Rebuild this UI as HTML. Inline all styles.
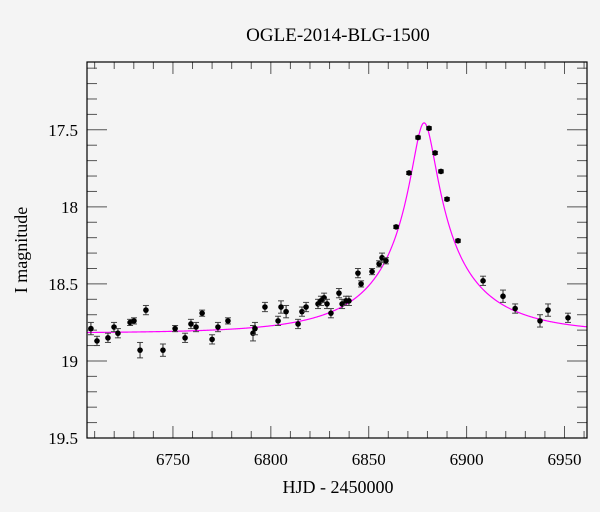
<!DOCTYPE html>
<html><head><meta charset="utf-8"><style>
html,body{margin:0;padding:0;background:#f4f4f4}
svg{display:block}
text{font-family:"Liberation Serif","DejaVu Serif",serif;fill:#000}
</style></head><body>
<svg id="chart" width="600" height="512" xmlns="http://www.w3.org/2000/svg">
<rect x="0" y="0" width="600" height="512" fill="#f4f4f4"/>
<text x="338" y="41" font-size="19" text-anchor="middle">OGLE-2014-BLG-1500</text>
<text x="338" y="493" font-size="18" text-anchor="middle">HJD - 2450000</text>
<text x="27" y="250" font-size="18" text-anchor="middle" transform="rotate(-90 27 250)">I magnitude</text>
<g id="ticks"></g>
<g id="model"></g>
<g id="points"></g>
<rect x="87" y="62" width="500" height="376" fill="none" stroke="#000" stroke-width="1.2"/>
</svg>
<script>
const hjd = [6708.1,6711.2,6716.8,6719.9,6721.9,6728.1,6730.1,6733.2,6736.2,6744.9,6751.1,6756.2,6759.2,6761.8,6764.9,6770.0,6773.0,6778.1,6790.9,6791.9,6797.0,6803.7,6805.2,6807.8,6813.9,6815.9,6818.0,6824.1,6825.6,6827.2,6828.7,6830.7,6834.8,6836.4,6838.4,6839.9,6844.5,6846.1,6851.7,6855.3,6856.8,6858.8,6864.0,6870.6,6875.2,6880.8,6883.9,6886.9,6890.0,6895.6,6908.4,6918.6,6924.8,6937.5,6941.6,6951.8];
const mag = [18.79,18.87,18.85,18.78,18.82,18.75,18.74,18.93,18.67,18.93,18.79,18.85,18.76,18.78,18.69,18.86,18.78,18.74,18.82,18.79,18.65,18.74,18.65,18.68,18.76,18.68,18.65,18.63,18.61,18.59,18.63,18.69,18.56,18.63,18.61,18.61,18.43,18.50,18.42,18.37,18.33,18.35,18.13,17.78,17.55,17.49,17.65,17.77,17.95,18.22,18.48,18.58,18.66,18.74,18.67,18.72];
const err = [0.04,0.03,0.03,0.03,0.03,0.02,0.02,0.05,0.03,0.04,0.02,0.03,0.03,0.03,0.02,0.03,0.03,0.02,0.05,0.04,0.03,0.03,0.04,0.04,0.03,0.03,0.03,0.03,0.03,0.03,0.03,0.03,0.03,0.03,0.03,0.03,0.03,0.02,0.02,0.02,0.03,0.02,0.01,0.01,0.01,0.01,0.01,0.01,0.01,0.01,0.03,0.04,0.03,0.04,0.04,0.03];
const xTicks = [6750,6800,6850,6900,6950];
const yTicks = [17.5,18,18.5,19,19.5];
const yTickLabels = ["17.5","18","18.5","19","19.5"];
const modelT0 = 6878.3, modelU0 = 0.107, modelTE = 55, modelBase = 18.82, modelFs = 0.3;

const X0=87,X1=587,Y0=62,Y1=438;
const xMin=6706.1,xMax=6961.5,yMin=17.06,yMax=19.5;
const sx=v=>X0+(v-xMin)/(xMax-xMin)*(X1-X0);
const sy=v=>Y0+(v-yMin)/(yMax-yMin)*(Y1-Y0);
const NS="http://www.w3.org/2000/svg";
function mk(tag,attrs,parent){const e=document.createElementNS(NS,tag);for(const k in attrs)e.setAttribute(k,attrs[k]);parent.appendChild(e);return e;}

const tg=document.getElementById('ticks');
for(let d=Math.ceil(xMin/10)*10; d<=xMax; d+=10){
  const major=d%50===0, x=sx(d), L=major?12:7;
  const t1=mk('line',{x1:x,x2:x,y1:Y1,y2:Y1-L,stroke:'#555','stroke-width':1},tg);
  
  
  const t2=mk('line',{x1:x,x2:x,y1:Y0,y2:Y0+L,stroke:'#555','stroke-width':1},tg);
  
  
}
xTicks.forEach(v=>{
  const t=mk('text',{x:sx(v),y:Y1+27,'font-size':17,'text-anchor':'middle'},tg);
  t.textContent=String(v);
  
  
});
for(let i=Math.ceil(yMin*10); i<=Math.round(yMax*10); i++){
  const v=i/10, major=i%5===0, y=sy(v), L=major?20:10;
  const t1=mk('line',{x1:X0,x2:X0+L,y1:y,y2:y,stroke:'#555','stroke-width':1},tg);
  
  
  const t2=mk('line',{x1:X1,x2:X1-L,y1:y,y2:y,stroke:'#555','stroke-width':1},tg);
  
  
}
yTicks.forEach((v,i)=>{
  const t=mk('text',{x:X0-9,y:sy(v)+6,'font-size':17,'text-anchor':'end'},tg);
  t.textContent=yTickLabels[i];
  
  
});
function modelMag(t){const tau=(t-modelT0)/modelTE;const u=Math.sqrt(modelU0*modelU0+tau*tau);const A=(u*u+2)/(u*Math.sqrt(u*u+4));return modelBase-2.5*Math.log10(modelFs*A+1-modelFs);}
let d='';
for(let t=xMin;t<=xMax;t+=0.25){d+=(d?'L':'M')+sx(t).toFixed(2)+','+sy(modelMag(t)).toFixed(2);}
const mp=mk('path',{d:d,fill:'none',stroke:'#ff00ff','stroke-width':1.2},document.getElementById('model'));


const pg=document.getElementById('points');
hjd.forEach((t,i)=>{
  const x=sx(t), y=sy(mag[i]), ya=sy(mag[i]-err[i]), yb=sy(mag[i]+err[i]);
  const g=mk('g',{},pg);
  
  
  mk('line',{x1:x,x2:x,y1:ya,y2:yb,stroke:'#222','stroke-width':1},g);
  mk('line',{x1:x-3,x2:x+3,y1:ya,y2:ya,stroke:'#444','stroke-width':1},g);
  mk('line',{x1:x-3,x2:x+3,y1:yb,y2:yb,stroke:'#444','stroke-width':1},g);
  mk('circle',{cx:x,cy:y,r:2.8,fill:'#000'},g);
});
</script>
</body></html>
